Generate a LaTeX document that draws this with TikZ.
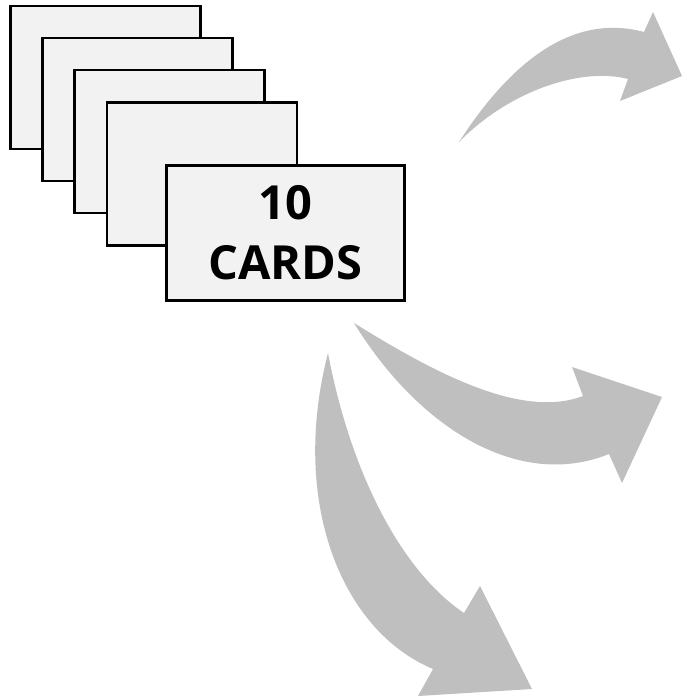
\documentclass[tikz,border=0pt]{standalone}
\usepackage{fontspec}
\setmainfont{Open Sans}
\begin{document}
\begin{tikzpicture}[x=1pt,y=-1pt,
  card/.style={draw=black,line width=2.2pt,fill=cardgray,minimum width=190pt,minimum height=143pt,inner sep=0pt},
  bigcard/.style={card,minimum width=238pt,minimum height=135pt,align=center,
    font=\fontsize{47}{60}\selectfont\bfseries},
  curvearrow/.style={fill=arrowgray,draw=none}]
\definecolor{cardgray}{HTML}{F2F2F2}
\definecolor{arrowgray}{HTML}{BFBFBF}
\useasboundingbox (0,0) rectangle (682,698);

% stack of cards, back to front
\node[card] (c1) at (105.5,77.5) {};
\node[card] (c2) at (137.5,109.8) {};
\node[card] (c3) at (169.5,141.8) {};
\node[card] (c4) at (201.7,174) {};
\node[bigcard] (c5) at (285.5,233) {10\\CARDS};

% upper curved arrow
\fill[curvearrow] (459,142) .. controls (508,66) and (570,12) .. (644,32)
  -- (653,12) -- (682,76) -- (620,101) -- (628,79)
  .. controls (582,67) and (510,90) .. (459,142) -- cycle;

% middle curved arrow
\fill[curvearrow] (354,323) .. controls (430,370) and (520,420) .. (583,396)
  -- (572,367) -- (662,397) -- (622,483) -- (609,454)
  .. controls (520,490) and (420,430) .. (354,323) -- cycle;

% lower curved arrow
\fill[curvearrow] (328,353) .. controls (350,470) and (400,570) .. (464,613)
  -- (480,586) -- (532,689) -- (418,696) -- (433,669)
  .. controls (340,630) and (290,500) .. (328,353) -- cycle;
\end{tikzpicture}
\end{document}
